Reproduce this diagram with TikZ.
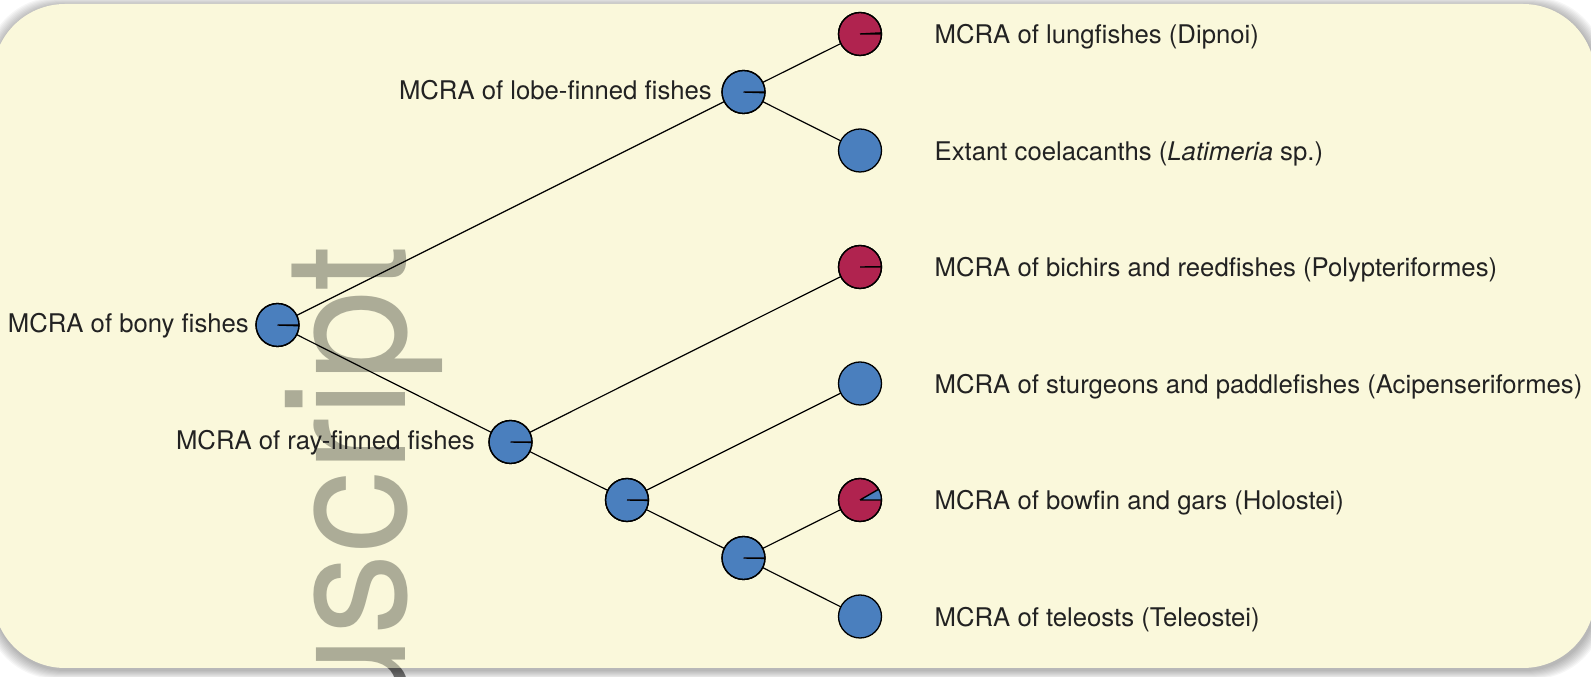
\documentclass[tikz,border=0pt]{standalone}
\usepackage{fontspec}
\setmainfont{TeX Gyre Heros}
\definecolor{cream}{HTML}{FAF8DB}
\definecolor{pblue}{HTML}{4A7FBE}
\definecolor{pred}{HTML}{B0234F}
\definecolor{wmark}{HTML}{ACAC97}
\definecolor{wmarkdark}{HTML}{777777}
\definecolor{txt}{HTML}{222222}
\newcommand{\pieslice}[4]{%
  \fill[#4] (#1.center) -- ++(#2:21.5pt) arc[start angle=#2,end angle=#3,radius=21.5pt] -- cycle;
  \draw[line width=1.4pt] (#1.center) -- ++(#2:21.5pt) (#1.center) -- ++(#3:21.5pt);
  \draw[line width=1.3pt] (#1.center) circle[radius=21.5pt];}
\begin{document}
\begin{tikzpicture}[x=1pt,y=1pt,
  pienode/.style={circle,draw=black,line width=1.3pt,minimum size=43pt,inner sep=0pt,outer sep=0pt},
  branch/.style={draw=black,line width=1.2pt},
  leaflabel/.style={anchor=base west,text=txt,font=\fontsize{25.7}{30}\selectfont,inner sep=0pt},
  intlabel/.style={anchor=base east,text=txt,font=\fontsize{25.7}{30}\selectfont,inner sep=0pt},
  wm/.style={rotate=90,anchor=base east,inner sep=0pt,font=\fontsize{170}{170}\selectfont}]
\useasboundingbox (0,0) rectangle (1591,677);
% watermark behind the box
\node[wm,text=wmarkdark] (wmout) at (405,431) {\scalebox{0.96}[1]{Manuscript}};
% soft shadow
\foreach \i in {1,...,9}{
  \fill[black,opacity=0.035,rounded corners=72pt] (-7-\i+1,9-\i-2) rectangle (1595+\i+1,673+\i-2);
}
% box
\fill[cream,rounded corners=72pt] (-7,9) rectangle (1595,673);
\begin{scope}
  \clip[rounded corners=72pt] (-7,9) rectangle (1595,673);
  \node[wm,text=wmark] (wmin) at (405,431) {\scalebox{0.96}[1]{Manuscript}};
\end{scope}
% nodes
\node[pienode,fill=pblue] (bony) at (277.5,352) {};
\node[pienode,fill=pblue] (lobe) at (743.5,585) {};
\node[pienode,fill=pblue] (ray) at (510.5,235) {};
\node[pienode,fill=pblue] (nhol) at (627,177) {};
\node[pienode,fill=pblue] (nneo) at (743.5,119) {};
\node[pienode,fill=pred] (lung) at (860,643) {};
\node[pienode,fill=pblue] (coel) at (860,526.5) {};
\node[pienode,fill=pred] (bich) at (860,410) {};
\node[pienode,fill=pblue] (stur) at (860,293.5) {};
\node[pienode,fill=pred] (holo) at (860,177) {};
\node[pienode,fill=pblue] (tele) at (860,60.5) {};
% branches
\draw[branch] (bony) -- (lobe);
\draw[branch] (bony) -- (ray);
\draw[branch] (lobe) -- (lung);
\draw[branch] (lobe) -- (coel);
\draw[branch] (ray) -- (bich);
\draw[branch] (ray) -- (nhol);
\draw[branch] (nhol) -- (stur);
\draw[branch] (nhol) -- (nneo);
\draw[branch] (nneo) -- (holo);
\draw[branch] (nneo) -- (tele);
% pie slices
\pieslice{bony}{-2}{0}{pred}
\pieslice{lobe}{-2}{0}{pred}
\pieslice{ray}{-1}{0}{pred}
\pieslice{nhol}{-1}{0}{pred}
\pieslice{nneo}{-1}{0}{pred}
\pieslice{lung}{0}{3}{pblue}
\pieslice{bich}{0}{0.5}{pblue}
\pieslice{holo}{0}{30}{pblue}
% internal labels
\node[intlabel] (lbony) at (249,344) {MCRA of bony fishes};
\node[intlabel] (llobe) at (712,577) {MCRA of lobe-finned fishes};
\node[intlabel] (lray) at (475,227) {MCRA of ray-finned fishes};
% leaf labels
\node[leaflabel] (llung) at (934.5,633) {MCRA of lungfishes (Dipnoi)};
\node[leaflabel] (lcoel) at (934.5,516.5) {Extant coelacanths (\textit{Latimeria} sp.)};
\node[leaflabel] (lbich) at (934.5,400) {MCRA of bichirs and reedfishes (Polypteriformes)};
\node[leaflabel] (lstur) at (934.5,283.5) {MCRA of sturgeons and paddlefishes (Acipenseriformes)};
\node[leaflabel] (lholo) at (934.5,167) {MCRA of bowfin and gars (Holostei)};
\node[leaflabel] (ltele) at (934.5,50.5) {MCRA of teleosts (Teleostei)};
\end{tikzpicture}
\end{document}
